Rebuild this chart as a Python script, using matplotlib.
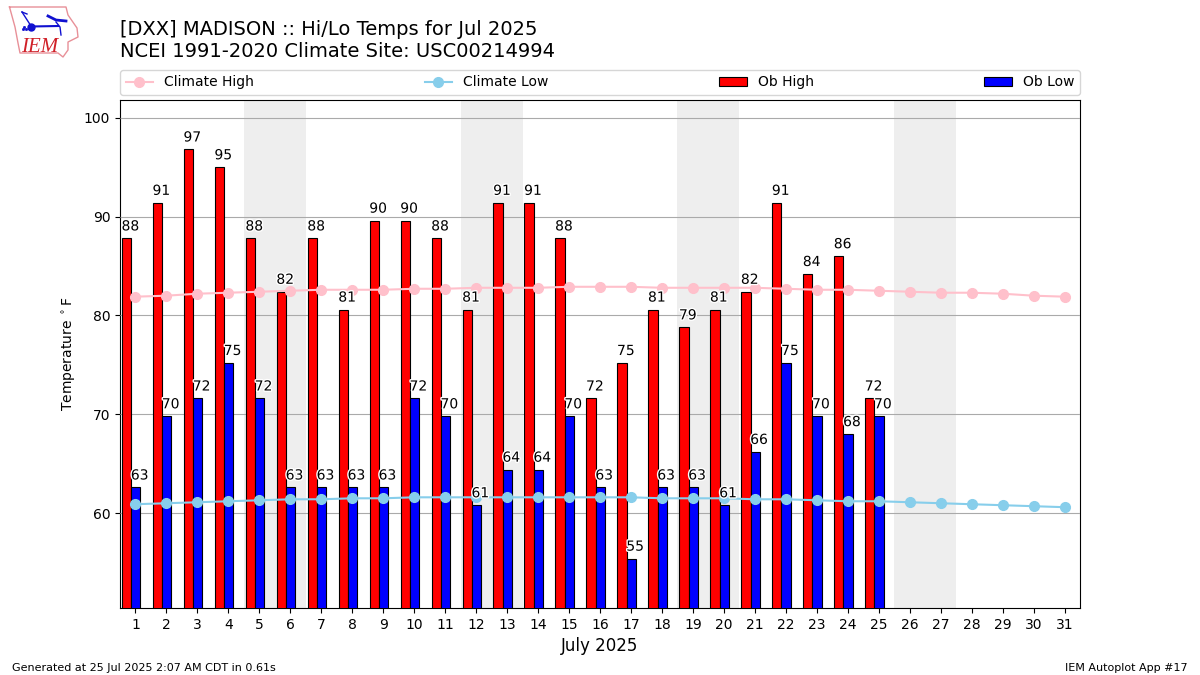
import matplotlib
matplotlib.use('Agg')
import matplotlib.pyplot as plt
import matplotlib.patheffects as PathEffects
import numpy as np

# daily values, degrees F
days = list(range(1, 32))
ob_high = [87.8, 91.4, 96.8, 95.0, 87.8, 82.4, 87.8, 80.6, 89.6, 89.6, 87.8, 80.6, 91.4,
           91.4, 87.8, 71.6, 75.2, 80.6, 78.8, 80.6, 82.4, 91.4, 84.2, 86.0, 71.6]
ob_low = [62.6, 69.8, 71.6, 75.2, 71.6, 62.6, 62.6, 62.6, 62.6, 71.6, 69.8, 60.8, 64.4,
          64.4, 69.8, 62.6, 55.4, 62.6, 62.6, 60.8, 66.2, 75.2, 69.8, 68.0, 69.8]
climate_high = [81.9, 82.0, 82.2, 82.3, 82.4, 82.5, 82.6, 82.6, 82.6, 82.7, 82.7, 82.8, 82.8,
                82.8, 82.9, 82.9, 82.9, 82.8, 82.8, 82.8, 82.8, 82.7, 82.6, 82.6, 82.5, 82.4,
                82.3, 82.3, 82.2, 82.0, 81.9]
climate_low = [60.9, 61.0, 61.1, 61.2, 61.3, 61.4, 61.4, 61.5, 61.5, 61.6, 61.6, 61.6, 61.6,
               61.6, 61.6, 61.6, 61.6, 61.5, 61.5, 61.5, 61.4, 61.4, 61.3, 61.2, 61.2, 61.1,
               61.0, 60.9, 60.8, 60.7, 60.6]
weekends = [(4.5, 6.5), (11.5, 13.5), (18.5, 20.5), (25.5, 27.5)]
yticks = [60, 70, 80, 90, 100]

W, H = 1200, 675
fig = plt.figure(figsize=(12, 6.75), dpi=100)
ax = fig.add_axes([120 / W, (H - 608) / H, 960 / W, 508 / H])

for start, end in weekends:
    ax.axvspan(start, end, color='#EEEEEE', lw=0, zorder=1)
ax.grid(True, axis='y', color='#AAAAAA', lw=0.8, zorder=2)
ax.set_axisbelow(False)

x_obs = np.array(days[:len(ob_high)])
width = 0.3
ax.bar(x_obs - 0.44, ob_high, width, align='edge', color='r', edgecolor='k', lw=0.8,
       label='Ob High', zorder=3)
ax.bar(x_obs - 0.14, ob_low, width, align='edge', color='b', edgecolor='k', lw=0.8,
       label='Ob Low', zorder=3)
ax.plot(days, climate_high, color='pink', marker='o', markersize=7, lw=1.5,
        label='Climate High', zorder=4)
ax.plot(days, climate_low, color='skyblue', marker='o', markersize=7, lw=1.5,
        label='Climate Low', zorder=4)

# value labels with a white halo
for x, hi, lo in zip(x_obs, ob_high, ob_low):
    for xpos, val in ((x - 0.45, hi), (x - 0.15, lo)):
        t = ax.text(xpos, val + 0.5, f'{val:.0f}', ha='left', va='bottom', fontsize=10, zorder=5)
        t.set_path_effects([PathEffects.withStroke(linewidth=2, foreground='white')])

ax.set_xlim(0.5, 31.5)
ax.set_ylim(50.4, 101.8)
ax.set_xticks(days)
ax.set_yticks(yticks)
ax.set_xlabel('July 2025', fontsize=12)
ax.set_ylabel(r'Temperature $^\circ$F')

# legend order follows the lines first, then the bars
handles, labels = ax.get_legend_handles_labels()
order = [labels.index(n) for n in ('Climate High', 'Climate Low', 'Ob High', 'Ob Low')]
ax.legend([handles[i] for i in order], [labels[i] for i in order], ncol=4, mode='expand',
          loc='lower left', bbox_to_anchor=(0, 1.01, 1, 0.05), borderaxespad=0, fontsize=10)

fig.text(120 / W, 1 - 61 / H, '[DXX] MADISON :: Hi/Lo Temps for Jul 2025\n'
         'NCEI 1991-2020 Climate Site: USC00214994', fontsize=14, va='bottom', ha='left')
fig.text(12 / W, 1 - 671 / H, 'Generated at 25 Jul 2025 2:07 AM CDT in 0.61s', fontsize=8)
fig.text(1188 / W, 1 - 671 / H, 'IEM Autoplot App #17', fontsize=8, ha='right')

# logo, drawn in its own little pixel space
logo = fig.add_axes([0, 1 - 60 / H, 90 / W, 60 / H])
logo.set_xlim(0, 90)
logo.set_ylim(60, 0)
logo.axis('off')
outline_x = [9.5, 66, 68, 77, 78, 68, 68, 63, 58, 20, 18, 15, 9.5]
outline_y = [7, 7, 15, 28, 37, 42, 50, 57, 53, 53, 43, 27, 7]
logo.plot(outline_x, outline_y, color='#E89098', lw=1)
logo.plot([31, 58], [26.5, 26], color='#1010D0', lw=1.5)
logo.plot([31], [26.5], 'o', color='#1010D0', ms=5)
logo.plot([22, 31], [12, 26], color='#1010D0', lw=1)
logo.plot([22, 27], [12, 14], color='#1010D0', lw=1)
logo.plot([48, 56, 66], [16, 20, 21], color='#1010D0', lw=2)
logo.plot([56, 60, 61], [22, 27, 35], color='#1010D0', lw=1)
logo.plot([24, 26, 23], [27, 29, 29], 's', color='#1010D0', ms=1)
logo.text(21, 52, 'IEM', color='#D02028', fontsize=15, family='Liberation Serif', style='italic')

fig.savefig('out.png', dpi=100)
